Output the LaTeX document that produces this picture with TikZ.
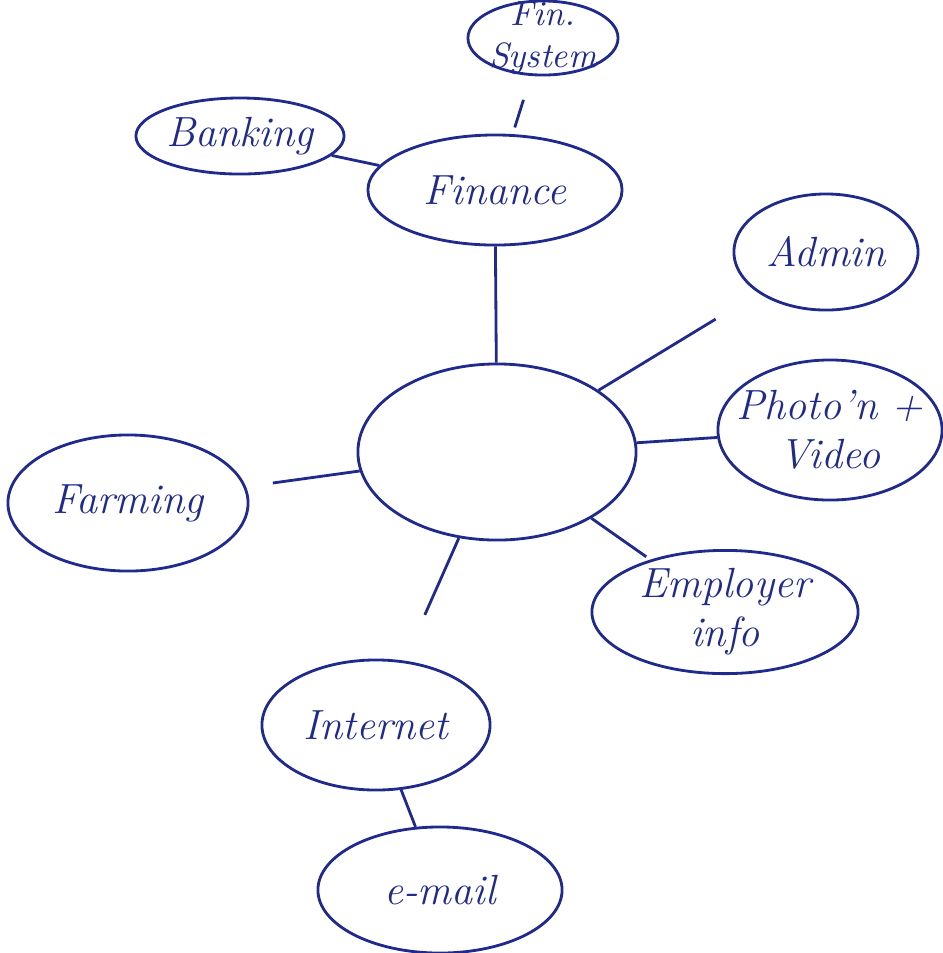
\documentclass[tikz,border=0pt]{standalone}
\usepackage{tikz}
\usetikzlibrary{shapes.geometric, positioning}
\definecolor{ink}{RGB}{32,42,140}

\begin{document}
\begin{tikzpicture}[x=0.01cm,y=-0.01cm,
    bubble/.style={draw=ink, thick, ellipse, inner sep=0pt, text=ink, font=\large\itshape, align=center},
    tight/.style={inner sep=-9pt, font=\normalsize\itshape},
    link/.style={draw=ink, thick}]
            \useasboundingbox (0,0) rectangle (943,953);
            \node[bubble, tight, minimum width=1.50cm, minimum height=0.74cm] (finsys) at (543,38) {Fin.\\System};
            \node[bubble, minimum width=2.00cm, minimum height=0.76cm] (banking) at (240,136) {Banking};
            \node[bubble, minimum width=2.54cm, minimum height=1.10cm] (finance) at (495,190) {Finance};
            \node[bubble, minimum width=1.84cm, minimum height=1.16cm] (admin) at (826,252) {Admin};
            \node[bubble, minimum width=2.78cm, minimum height=1.76cm] (hub) at (497,452) {};
            \node[bubble, tight, font=\large\itshape, minimum width=2.24cm, minimum height=1.40cm] (photo) at (830,430) {Photo'n +\\Video};
            \node[bubble, minimum width=2.40cm, minimum height=1.36cm] (farming) at (128,503) {Farming};
            \node[bubble, minimum width=2.66cm, minimum height=1.04cm] (employer) at (725,612) {Employer\\info};
            \node[bubble, minimum width=2.28cm, minimum height=1.30cm] (internet) at (376,725) {Internet};
            \node[bubble, minimum width=2.44cm, minimum height=1.26cm] (email) at (440,890) {e-mail};
            \draw[link, shorten <=0.25cm, shorten >=0.07cm] (finsys) -- (finance);
            \draw[link] (banking) -- (finance);
            \draw[link] (finance) -- (hub);
            \draw[link, shorten <=0.5cm] (admin) -- (hub);
            \draw[link] (photo) -- (hub);
            \draw[link, shorten <=0.27cm] (farming) -- (hub);
            \draw[link, shorten <=0.05cm] (employer) -- (hub);
            \draw[link, shorten <=0.5cm] (internet) -- (hub);
            \draw[link] (internet) -- (email);
        \end{tikzpicture}
\end{document}
